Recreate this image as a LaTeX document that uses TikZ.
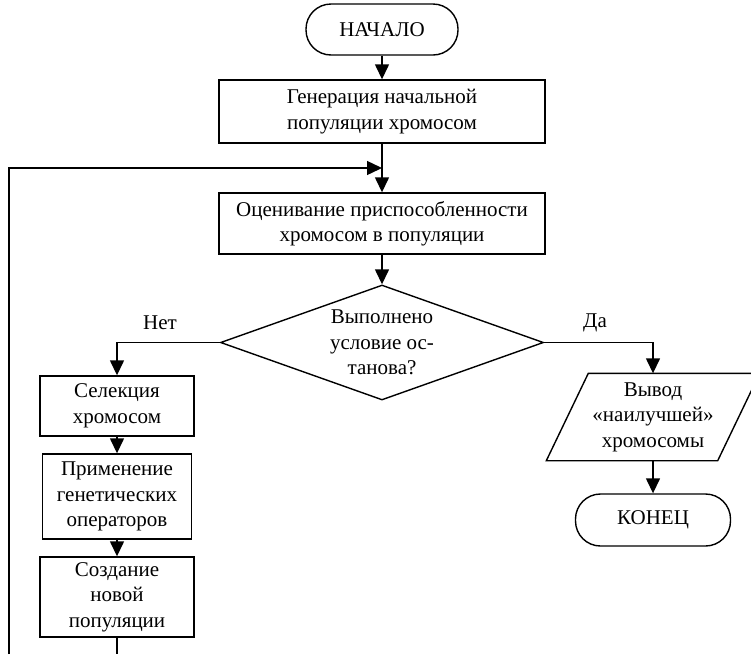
\documentclass[tikz,border=0pt]{standalone}
\usepackage{fontspec}
\setmainfont{Liberation Serif}
\usetikzlibrary{arrows.meta,shapes.geometric,calc}
\begin{document}
\begin{tikzpicture}[x=1pt,y=-1pt,
  font=\fontsize{21}{25.5}\selectfont,
  line width=1.4pt,
  every node/.style={inner sep=0pt, align=center},
  box/.style={draw, rectangle},
  term/.style={draw, rectangle, rounded corners=25pt},
  dec/.style={draw, diamond, aspect=2.8},
  arr/.style={-{Triangle[length=15pt,width=14pt]}},
  lbl/.style={}]
\useasboundingbox (0,0) rectangle (751,654);
\node[term, minimum width=152, minimum height=51] (start) at (382,29.5) {НАЧАЛО};
\node[box, minimum width=326, minimum height=63] (gen) at (382,111.5) {Генерация начальной\\популяции хромосом};
\node[box, minimum width=326, minimum height=61] (eval) at (382,223.5) {Оценивание приспособленности\\хромосом в популяции};
\node[dec, minimum width=323, minimum height=115] (cond) at (382,342.5) {Выполнено\\условие ос-\\танова?};
\node[box, minimum width=154, minimum height=60] (sel) at (117,406) {Селекция\\хромосом};
\node[box, minimum width=149, minimum height=85] (app) at (117,496.5) {Применение\\генетических\\операторов};
\node[box, minimum width=154, minimum height=80] (cre) at (117,597) {Создание\\новой\\популяции};
\node[minimum width=170, minimum height=86] (out) at (653,417) {Вывод\\«наилучшей»\\хромосомы};
\draw ($(out.south west)+(-21,0)$) -- ($(out.north west)+(21,0)$) -- ($(out.north east)+(21,0)$) -- ($(out.south east)+(-21,0)$) -- cycle;
\node[term, minimum width=155, minimum height=52] (end) at (653,520) {КОНЕЦ};
\node[lbl] (no) at (160,323) {Нет};
\node[lbl] (yes) at (595,323) {Да};
\coordinate (loopin) at (382,168);
\coordinate (crebot) at (117,654);
\coordinate (loopbot) at (9,654);
\draw[arr] (start) -- (gen);
\draw[arr] (gen) -- (eval);
\draw[arr] (eval) -- (cond);
\draw[arr] (cond.west) -| (sel.north);
\draw[arr] (cond.east) -| (out.north);
\draw[arr] (sel) -- (app);
\draw[arr] (app) -- (cre);
\draw[arr] (out) -- (end);
\draw (cre.south) -- (crebot);
\draw[arr] (loopbot) |- (loopin);
\end{tikzpicture}
\end{document}
